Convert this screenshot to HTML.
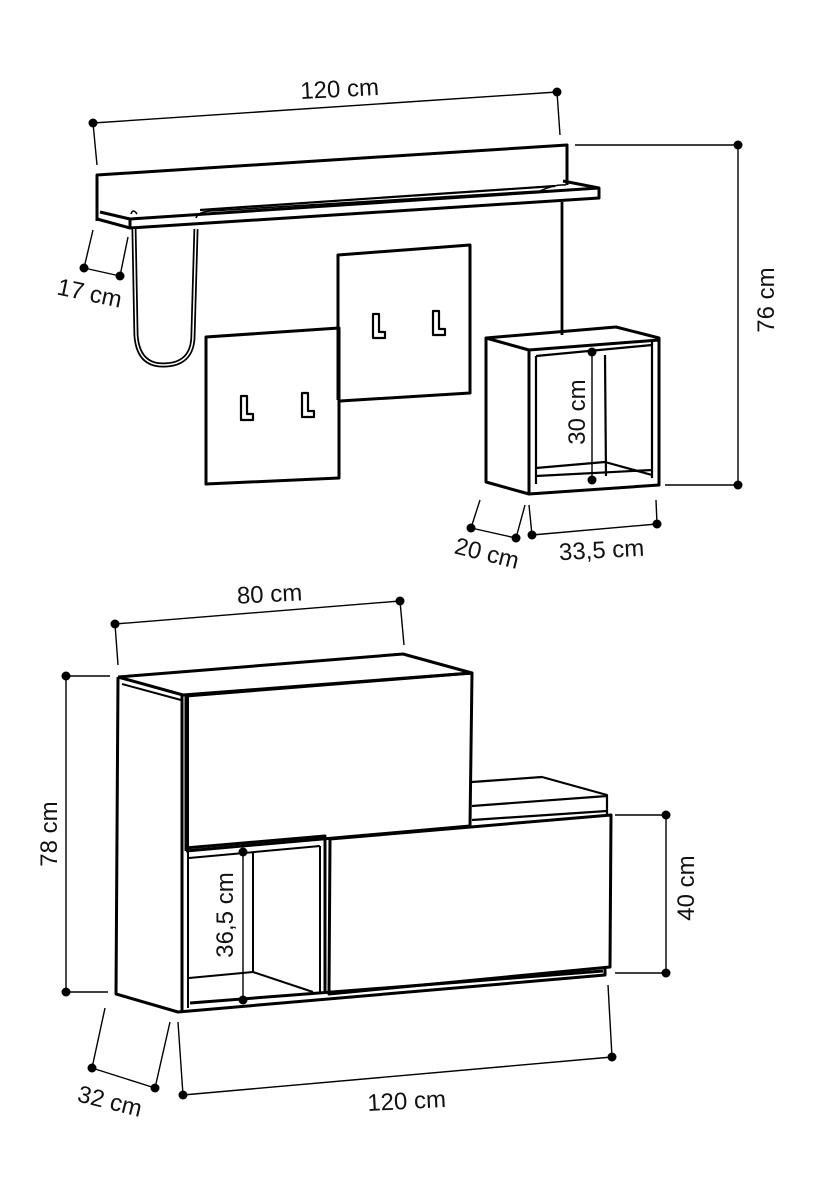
<!DOCTYPE html>
<html><head><meta charset="utf-8"><style>
html,body{margin:0;padding:0;background:#fff;}
svg{display:block;}
text{font-family:"Liberation Sans",sans-serif;font-size:24px;fill:#111;}
</style></head><body>
<svg width="833" height="1180" viewBox="0 0 833 1180" xmlns="http://www.w3.org/2000/svg">
<g fill="none" stroke="#000" stroke-width="3" stroke-linejoin="round">
<path d="M97,221 L97,175 L567,145 L567,185"/>
<path d="M97,219 L130,228 L599,198 L599,188 L563,181 M130,228 L130,219 L599,188 M100,212 L130,219"/>
<path d="M200,210 L555,186" stroke-width="2.2"/>
<path d="M196,218 Q198,212 210,211 L540,191 Q555,184 566,185" stroke-width="1.6"/>
<path d="M131,214 q2,-6 6,0" stroke-width="1.6"/>
<path d="M134,229 L136,335 Q138,365 163,365 Q193,365 193,335 L196,229" stroke-width="5"/>
<path d="M134,229 L136,335 Q138,365 163,365 Q193,365 193,335 L196,229" stroke="#fff" stroke-width="1.5"/>
<path d="M562,202 L562,335" stroke-width="2.8"/>
<path d="M338,400 L338,255 L470,245 L470,393 L340,401"/>
<path d="M206,484 L206,337 L339,328 L339,478 Z"/>
<path d="M486,338 L486,482 L529,494 L659,485 L659,338 L616,327 L486,338 L529,350 L659,340 M529,350 L529,494"/>
<path d="M536,356 L536,484 M652,342 L652,478 M536,356 L652,345 M605,355 L606,476 M536,468 L605,462 L652,475 M536,476 L652,470" stroke-width="2.2"/>
<g stroke-width="2.2">
<path d="M241,396 h6 v18 h6 v6 h-12 z"/><path d="M302,393 h6 v18 h6 v6 h-12 z"/>
<path d="M373,314 h6 v18 h6 v6 h-12 z"/><path d="M433,311 h6 v18 h6 v6 h-12 z"/>
</g>
<path d="M118,677 L116,994 L178,1012 L605,975 L605,967 M118,677 L403,654 L472,673 L183,695 L118,677 M182,695 L182,1012"/>
<path d="M188,697 L188,1008 M122,684 L181,700" stroke-width="2"/>
<path d="M186,851 L186,696 L472,673 L470,826 L186,851"/>
<path d="M185,848 L325,836 L325,993 M190,1003 L603,971"/>
<path d="M189,858 L320,846 M253,853 L253,972 L313,992 M189,978 L253,972 M320,846 L320,992" stroke-width="2"/>
<path d="M330,839 L611,815 L610,967 L329,994 Z"/>
<path d="M472,782 L542,777 L607,795 L607,814 M472,806 L607,796 M472,820 L607,811" stroke-width="2.2"/>
</g>
<g stroke="#000" stroke-width="1.4" fill="none">
<path d="M93,123 L557,92 M93,123 L97,165 M557,92 L560,135"/>
<path d="M575,145 L738,145 L738,485 L665,485"/>
<path d="M84,268 L120,276 M84,268 L93,230 M120,276 L128,237"/>
<path d="M471,528 L516,538 M471,528 L480,500 M516,538 L525,505"/>
<path d="M532,535 L657,524 M529,505 L532,535 M656,500 L657,524"/>
<path d="M592,352 L592,480"/>
<path d="M115,624 L400,601 M115,624 L118,665 M400,601 L404,645"/>
<path d="M110,676 L66,676 L66,992 L108,992"/>
<path d="M615,815 L666,815 L666,973 L615,973"/>
<path d="M92,1068 L155,1088 M92,1068 L105,1008 M155,1088 L170,1022"/>
<path d="M183,1095 L612,1057 M178,1022 L183,1095 M608,985 L612,1057"/>
<path d="M243,852 L243,1000"/>
</g>
<g fill="#000">
<circle cx="93" cy="123" r="4.5"/><circle cx="557" cy="92" r="4.5"/>
<circle cx="738" cy="145" r="4.5"/><circle cx="738" cy="485" r="4.5"/>
<circle cx="84" cy="268" r="4.5"/><circle cx="120" cy="276" r="4.5"/>
<circle cx="471" cy="528" r="4.5"/><circle cx="516" cy="538" r="4.5"/>
<circle cx="532" cy="535" r="4.5"/><circle cx="657" cy="524" r="4.5"/>
<circle cx="592" cy="352" r="4.5"/><circle cx="592" cy="480" r="4.5"/>
<circle cx="115" cy="624" r="4.5"/><circle cx="400" cy="601" r="4.5"/>
<circle cx="66" cy="676" r="4.5"/><circle cx="66" cy="992" r="4.5"/>
<circle cx="666" cy="815" r="4.5"/><circle cx="666" cy="973" r="4.5"/>
<circle cx="92" cy="1068" r="4.5"/><circle cx="155" cy="1088" r="4.5"/>
<circle cx="183" cy="1095" r="4.5"/><circle cx="612" cy="1057" r="4.5"/>
<circle cx="243" cy="852" r="4.5"/><circle cx="243" cy="1000" r="4.5"/>
</g>
<g>
<text x="340" y="97" text-anchor="middle" transform="rotate(-3 340 97)">120 cm</text>
<text x="774" y="300" text-anchor="middle" transform="rotate(-90 774 300)">76 cm</text>
<text x="88" y="301" text-anchor="middle" transform="rotate(12 88 301)">17 cm</text>
<text x="485" y="561" text-anchor="middle" transform="rotate(14 485 561)">20 cm</text>
<text x="602" y="558" text-anchor="middle" transform="rotate(-3 602 558)">33,5 cm</text>
<text x="585" y="412" text-anchor="middle" transform="rotate(-90 585 412)">30 cm</text>
<text x="270" y="602" text-anchor="middle" transform="rotate(-3 270 602)">80 cm</text>
<text x="57" y="834" text-anchor="middle" transform="rotate(-90 57 834)">78 cm</text>
<text x="694" y="888" text-anchor="middle" transform="rotate(-90 694 888)">40 cm</text>
<text x="233" y="915" text-anchor="middle" transform="rotate(-90 233 915)">36,5 cm</text>
<text x="108" y="1109" text-anchor="middle" transform="rotate(14 108 1109)">32 cm</text>
<text x="407" y="1109" text-anchor="middle" transform="rotate(-3 407 1109)">120 cm</text>
</g>
</svg>
</body></html>
